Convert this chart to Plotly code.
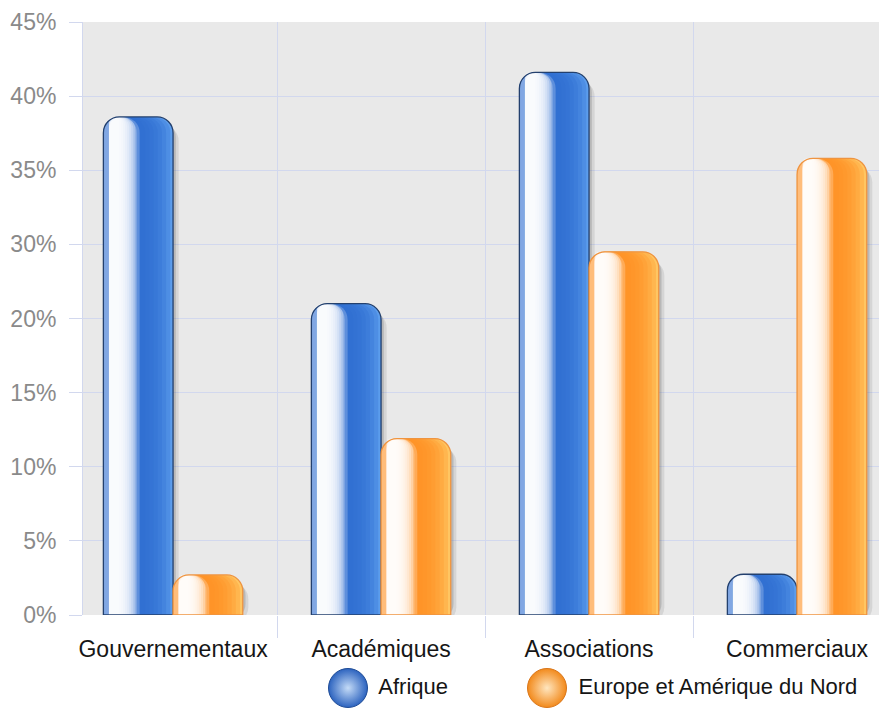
import plotly.graph_objects as go

# ---- data ---------------------------------------------------------------
categories = ["Gouvernementaux", "Académiques", "Associations", "Commerciaux"]
series_names = ["Afrique", "Europe et Amérique du Nord"]
afrique = [33.6, 21.0, 36.6, 2.75]
europe_amerique = [2.7, 11.9, 24.5, 30.8]
tick_values = [0, 5, 10, 15, 20, 25, 30, 35, 40]
tick_labels = ["0%", "5%", "10%", "15%", "20%", "30%", "35%", "40%", "45%"]

# ---- styling ------------------------------------------------------------
W, H = 879, 708
BAR_W = 0.335
RADIUS = 16
GRID = "#d2d8ee"
FONT = "Liberation Sans, Arial, Helvetica, sans-serif"

series = [
    dict(values=afrique, offset=-BAR_W, tint="#5c9ded", main="#2f6ecf",
         outline="#23406e",
         ball="#2c63bf", ball_center="#c4dbf7", ball_line="#1f4c96"),
    dict(values=europe_amerique, offset=0.0, tint="#ffc662", main="#ff9224",
         outline="#ef9440",
         ball="#f28a1c", ball_center="#ffe6bf", ball_line="#d9761a"),
]

# slice fractions (of bar width) used to shade the glossy cylinders
DARKEN_TO = [0.96, 0.90, 0.84, 0.78, 0.72, 0.66, 0.60]
SOFTEN_TO = [0.48, 0.52]
SHINE_FROM = 0.08
SHINE_TO = [0.22, 0.25, 0.28, 0.31, 0.34, 0.37, 0.40, 0.43, 0.46]


def layer(s, f0, f1, color, opacity=1.0, line=None, base=None, shift=0.0, clip=True):
    """One slice of a glossy bar, spanning fractions f0..f1 of its width."""
    return go.Bar(
        x=categories, y=s["values"], base=base,
        offset=s["offset"] + f0 * BAR_W + shift, width=(f1 - f0) * BAR_W,
        marker=dict(color=color, opacity=opacity, cornerradius=RADIUS,
                    line=line or dict(width=0)),
        cliponaxis=clip, showlegend=False, hoverinfo="skip",
    )


fig = go.Figure()

# soft drop shadows
for s in series:
    fig.add_trace(layer(s, 0.08, 1.08, "rgba(40,40,40,0.10)", base=-0.55, clip=False))
    fig.add_trace(layer(s, 0.04, 1.04, "rgba(40,40,40,0.16)", base=-0.3, clip=False))

# glossy cylinder bars built from stacked slices
for s in series:
    fig.add_trace(layer(s, 0.0, 1.0, s["tint"]))
    for g in DARKEN_TO:
        fig.add_trace(layer(s, 0.0, g, s["main"], opacity=0.3))
    for g in SOFTEN_TO:
        fig.add_trace(layer(s, 0.0, g, "#ffffff", opacity=0.22))
    for g in SHINE_TO:
        fig.add_trace(layer(s, SHINE_FROM, g, "#ffffff", opacity=0.3))
    fig.add_trace(layer(s, 0.0, 1.0, "rgba(0,0,0,0)",
                        line=dict(color=s["outline"], width=1.3)))

# legend: glossy balls with series names
fig.add_trace(go.Scatter(
    x=[348, 547], y=[0.5, 0.5], xaxis="x2", yaxis="y2",
    mode="markers+text", text=[" " + n for n in series_names],
    textposition="middle right",
    textfont=dict(size=22, color="#151515", family=FONT),
    marker=dict(size=39, color=[s["ball"] for s in series],
                gradient=dict(type="radial", color=[s["ball_center"] for s in series]),
                line=dict(color=[s["ball_line"] for s in series], width=1)),
    cliponaxis=False, showlegend=False, hoverinfo="skip",
))

fig.update_layout(
    width=W, height=H,
    margin=dict(l=0, r=0, t=0, b=0, autoexpand=False),
    paper_bgcolor="white", plot_bgcolor="white",
    barmode="overlay",
    font=dict(family=FONT),
    shapes=[dict(type="rect", xref="x domain", yref="y domain",
                 x0=0, x1=1, y0=0, y1=1, fillcolor="#e9e9e9",
                 line=dict(width=0), layer="below")],
    xaxis=dict(
        domain=[83 / W, 1], type="category",
        categoryorder="array", categoryarray=categories,
        range=[-0.433, 3.394], tickson="boundaries",
        showgrid=True, gridcolor=GRID, gridwidth=1,
        ticks="outside", ticklen=22, tickcolor=GRID,
        ticklabelstandoff=18,
        tickfont=dict(size=23, color="#161616", family=FONT),
        zeroline=False, showline=False, fixedrange=True, automargin=False,
    ),
    yaxis=dict(
        domain=[93 / H, 1 - 22 / H], range=[0, 40],
        tickvals=tick_values, ticktext=tick_labels,
        showgrid=True, gridcolor=GRID, gridwidth=1,
        ticks="outside", ticklen=13, tickcolor=GRID,
        ticklabelstandoff=8,
        tickfont=dict(size=23, color="#8a8a8a", family=FONT),
        showline=True, linecolor=GRID, zeroline=False, fixedrange=True,
        automargin=False,
    ),
    xaxis2=dict(domain=[0, 1], range=[0, W], visible=False, anchor="y2",
                automargin=False),
    yaxis2=dict(domain=[0, 40 / H], range=[0, 1], visible=False, anchor="x2",
                automargin=False),
)

fig.write_html("out.html")
